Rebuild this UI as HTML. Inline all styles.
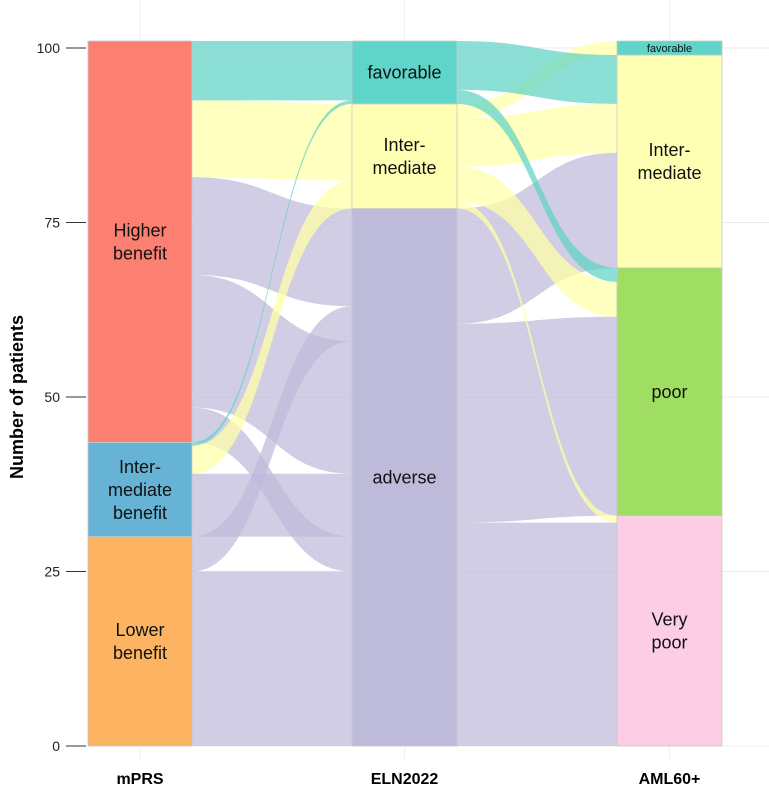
<!DOCTYPE html>
<html><head><meta charset="utf-8"><style>
body{margin:0;background:#fff;font-family:"Liberation Sans",Arial,sans-serif}
svg text{font-family:"Liberation Sans",Arial,sans-serif}
</style></head><body>
<svg id="chart" width="769" height="804" viewBox="0 0 769 804" xmlns="http://www.w3.org/2000/svg">
<g id="grid"></g>
<g id="flows"></g>
<g id="strata"></g>
<g id="axis"></g>
<text transform="translate(23,397) rotate(-90)" text-anchor="middle" font-size="18" font-weight="bold" fill="#000">Number of patients</text>
</svg>
<script>
const axesNames = ["mPRS","ELN2022","AML60+"];
const mprsStrata = ["Lower benefit","Inter-mediate benefit","Higher benefit"];
const elnStrata = ["adverse","Inter-mediate","favorable"];
const amlStrata = ["Very poor","poor","Inter-mediate","favorable"];
// left flows: [source mPRS, target ELN, count] in source stacking order (top-down)
const leftSrc = ["Higher benefit","Higher benefit","Higher benefit","Higher benefit","Higher benefit","Inter-mediate benefit","Inter-mediate benefit","Inter-mediate benefit","Lower benefit","Lower benefit"];
const leftTgt = ["favorable","Inter-mediate","adverse","adverse","adverse","favorable","Inter-mediate","adverse","adverse","adverse"];
const leftN = [8.5,11,14,19,5,0.5,4,9,5,25];
const leftTgtOrder = [0,5,1,6,2,8,3,7,4,9];
// right flows: ELN -> AML60+
const rightSrc = ["favorable","favorable","Inter-mediate","Inter-mediate","Inter-mediate","Inter-mediate","adverse","adverse","adverse"];
const rightTgt = ["Inter-mediate","poor","favorable","Inter-mediate","poor","Very poor","Inter-mediate","poor","Very poor"];
const rightN = [7,2,2,7,5,1,16.5,28.5,32];
const rightTgtOrder = [2,0,3,6,1,4,7,5,8];
const yTicks = [0,25,50,75,100];

const flowCol = {"favorable":"rgba(95,210,195,0.72)","Inter-mediate":"rgba(255,255,170,0.75)","adverse":"rgba(190,186,218,0.72)"};
const colX = [[88,192],[352,457],[617,722]];
const y = v => 746 - v*6.98;
const NS="http://www.w3.org/2000/svg";
function mk(tag, attrs, parent){const e=document.createElementNS(NS,tag);for(const k in attrs)e.setAttribute(k,attrs[k]);parent.appendChild(e);return e;}

const grid=document.getElementById('grid');
yTicks.forEach(t=>{const l=mk('line',{x1:88,x2:769,y1:y(t),y2:y(t),stroke:'#ececec','stroke-width':1},grid);

});
colX.forEach((c,i)=>{const l=mk('line',{x1:(c[0]+c[1])/2,x2:(c[0]+c[1])/2,y1:0,y2:760,stroke:'#f0f0f0','stroke-width':1},grid);

});

function totals(names, srcArr, nArr){const t={};names.forEach(n=>t[n]=0);srcArr.forEach((s,i)=>t[s]+=nArr[i]);return t;}
const totM = totals(mprsStrata, leftSrc, leftN);
const totE = totals(elnStrata, leftTgt, leftN);
const totA = totals(amlStrata, rightTgt, rightN);
function bounds(names, tot){const b={};let c=0;names.forEach(n=>{b[n]=[c,c+tot[n]];c+=tot[n];});return b;}
const bM=bounds(mprsStrata,totM), bE=bounds(elnStrata,totE), bA=bounds(amlStrata,totA);

function stack(keys, nArr, order, b){const cur={};for(const k in b)cur[k]=b[k][1];const res=[];order.forEach(i=>{const k=keys[i];res[i]=[cur[k],cur[k]-nArr[i]];cur[k]-=nArr[i];});return res;}
const idx = a => a.map((_,i)=>i);
const flowsG=document.getElementById('flows');
function rank(k){return k==='adverse'?0:k==='Inter-mediate'?1:2;}
function drawFlows(src,tgt,n,tgtOrder,bS,bT,x1,x2,colorKey,prefix){
  const s=stack(src,n,idx(src),bS), t=stack(tgt,n,tgtOrder,bT);
  const xm=(x1+x2)/2;
  const order=idx(src).sort((a,b)=>rank(colorKey(a))-rank(colorKey(b)));
  order.forEach(i=>{
    const a1=y(s[i][0]),a2=y(s[i][1]),b1=y(t[i][0]),b2=y(t[i][1]);
    const d=`M${x1},${a1} C${xm},${a1} ${xm},${b1} ${x2},${b1} L${x2},${b2} C${xm},${b2} ${xm},${a2} ${x1},${a2} Z`;
    const p=mk('path',{d:d,fill:flowCol[colorKey(i)]},flowsG);
    
    
  });
}
drawFlows(leftSrc,leftTgt,leftN,leftTgtOrder,bM,bE,192,352,i=>leftTgt[i],'mprs-eln');
drawFlows(rightSrc,rightTgt,rightN,rightTgtOrder,bE,bA,457,617,i=>rightSrc[i],'eln-aml');

const stratG=document.getElementById('strata');
const colors={"Lower benefit":"#fdb462","Inter-mediate benefit":"#67b3d6","Higher benefit":"#fb8072",
"adverse":"#bebada","Inter-mediate":"#ffffb3","favorable":"#5fd4c8","Very poor":"#fccde5","poor":"#9fde63"};
function label(n, ax){
  if(ax===0){return {"Lower benefit":["Lower","benefit"],"Inter-mediate benefit":["Inter-","mediate","benefit"],"Higher benefit":["Higher","benefit"]}[n];}
  if(n==="Inter-mediate")return ["Inter-","mediate"];
  if(n==="Very poor")return ["Very","poor"];
  return [n];
}
[[mprsStrata,bM],[elnStrata,bE],[amlStrata,bA]].forEach(([names,b],ax)=>{
  names.forEach(n=>{
    const top=y(b[n][1]),bot=y(b[n][0]);
    const r=mk('rect',{x:colX[ax][0],y:top,width:colX[ax][1]-colX[ax][0],height:bot-top,fill:colors[n],stroke:'#c8c8c8','stroke-width':0.8},stratG);
    
    
    const lines=label(n,ax);const small=(ax===2&&n==="favorable");const fs=small?11:18;const lh=small?11:23;
    const cy=(top+bot)/2-(lines.length-1)*lh/2+fs*0.35;
    lines.forEach((t,k)=>{const tx=mk('text',{x:(colX[ax][0]+colX[ax][1])/2,y:cy+k*lh,'text-anchor':'middle','font-size':fs,fill:'#111'},stratG);tx.textContent=t;
      
      });
  });
});

const axG=document.getElementById('axis');
yTicks.forEach(t=>{
  const l=mk('line',{x1:66,x2:86,y1:y(t),y2:y(t),stroke:'#333','stroke-width':1},axG);
  
  
  const tx=mk('text',{x:60,y:y(t)+5,'text-anchor':'end','font-size':14,fill:'#222'},axG);tx.textContent=t;
  
  
});
axesNames.forEach((n,i)=>{const tx=mk('text',{x:(colX[i][0]+colX[i][1])/2,y:784,'text-anchor':'middle','font-size':16,'font-weight':'bold',fill:'#000'},axG);tx.textContent=n;
  
  });
</script>
</body></html>
